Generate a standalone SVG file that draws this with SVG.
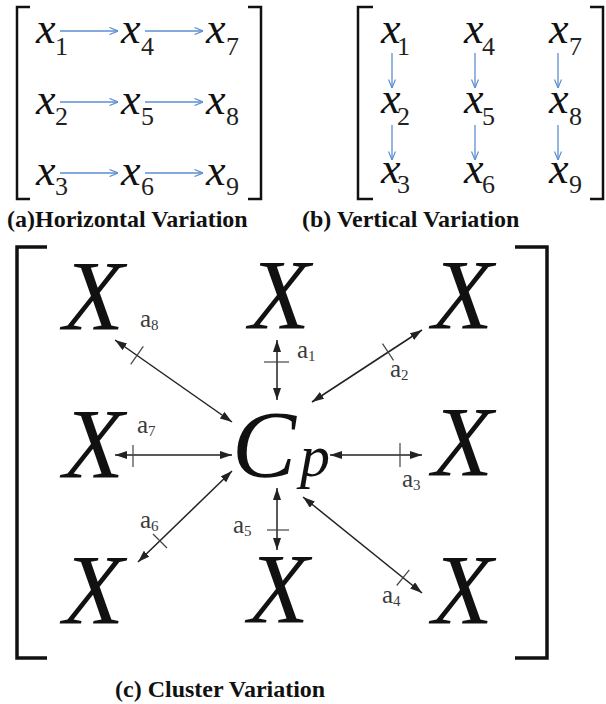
<svg xmlns="http://www.w3.org/2000/svg" width="606" height="704" viewBox="0 0 606 704" font-family="Times New Roman">
<defs>
<marker id="ba" viewBox="0 0 9 8" refX="9" refY="4" markerWidth="9" markerHeight="8" orient="auto" markerUnits="userSpaceOnUse">
<path d="M0.5,0.5 L9,4 L0.5,7.5" fill="none" stroke="#5b8fd0" stroke-width="1.2"/>
</marker>
<marker id="ah" viewBox="0 0 12 8" refX="12" refY="4" markerWidth="12" markerHeight="8" orient="auto-start-reverse" markerUnits="userSpaceOnUse">
<path d="M0,0 L12,4 L0,8 z" fill="#222"/>
</marker>
</defs>
<rect width="606" height="704" fill="#fff"/>
<g id="panel-a-brackets" fill="none" stroke="#111" stroke-width="2.5">
<path d="M30,7 H17 V199 H30"/>
<path d="M248,7 H261 V199 H248"/>
</g>
<g id="a-x1"><text font-family="Times New Roman" font-style="italic" font-size="44" fill="#111" x="36" y="43">x</text><text font-family="Times New Roman" font-size="26" fill="#222" x="55" y="55">1</text></g>
<g id="a-x4"><text font-family="Times New Roman" font-style="italic" font-size="44" fill="#111" x="121" y="43">x</text><text font-family="Times New Roman" font-size="26" fill="#222" x="141" y="55">4</text></g>
<g id="a-x7"><text font-family="Times New Roman" font-style="italic" font-size="44" fill="#111" x="206" y="43">x</text><text font-family="Times New Roman" font-size="26" fill="#222" x="226" y="55">7</text></g>
<g id="a-x2"><text font-family="Times New Roman" font-style="italic" font-size="44" fill="#111" x="36" y="114">x</text><text font-family="Times New Roman" font-size="26" fill="#222" x="55" y="125">2</text></g>
<g id="a-x5"><text font-family="Times New Roman" font-style="italic" font-size="44" fill="#111" x="121" y="114">x</text><text font-family="Times New Roman" font-size="26" fill="#222" x="141" y="125">5</text></g>
<g id="a-x8"><text font-family="Times New Roman" font-style="italic" font-size="44" fill="#111" x="206" y="114">x</text><text font-family="Times New Roman" font-size="26" fill="#222" x="226" y="125">8</text></g>
<g id="a-x3"><text font-family="Times New Roman" font-style="italic" font-size="44" fill="#111" x="36" y="185">x</text><text font-family="Times New Roman" font-size="26" fill="#222" x="55" y="195">3</text></g>
<g id="a-x6"><text font-family="Times New Roman" font-style="italic" font-size="44" fill="#111" x="121" y="185">x</text><text font-family="Times New Roman" font-size="26" fill="#222" x="141" y="195">6</text></g>
<g id="a-x9"><text font-family="Times New Roman" font-style="italic" font-size="44" fill="#111" x="206" y="185">x</text><text font-family="Times New Roman" font-size="26" fill="#222" x="226" y="195">9</text></g>
<g id="a-connectors" stroke="#5b8fd0" stroke-width="1.3" fill="none" marker-end="url(#ba)">
<line x1="60" y1="31" x2="118" y2="31"/>
<line x1="145" y1="31" x2="203" y2="31"/>
<line x1="60" y1="102" x2="118" y2="102"/>
<line x1="145" y1="102" x2="203" y2="102"/>
<line x1="60" y1="173" x2="118" y2="173"/>
<line x1="145" y1="173" x2="203" y2="173"/>
</g>
<text font-family="Times New Roman" font-weight="bold" font-size="24" fill="#111" x="7" y="227">(a)Horizontal Variation</text>
<g id="panel-b-brackets" fill="none" stroke="#111" stroke-width="2.5">
<path d="M373,7 H358 V199 H373"/>
<path d="M590,7 H603 V199 H590"/>
</g>
<g id="b-x1"><text font-family="Times New Roman" font-style="italic" font-size="44" fill="#111" x="381" y="43">x</text><text font-family="Times New Roman" font-size="26" fill="#222" x="397" y="55">1</text></g>
<g id="b-x4"><text font-family="Times New Roman" font-style="italic" font-size="44" fill="#111" x="464" y="43">x</text><text font-family="Times New Roman" font-size="26" fill="#222" x="482" y="55">4</text></g>
<g id="b-x7"><text font-family="Times New Roman" font-style="italic" font-size="44" fill="#111" x="549" y="43">x</text><text font-family="Times New Roman" font-size="26" fill="#222" x="569" y="55">7</text></g>
<g id="b-x2"><text font-family="Times New Roman" font-style="italic" font-size="44" fill="#111" x="381" y="113">x</text><text font-family="Times New Roman" font-size="26" fill="#222" x="397" y="125">2</text></g>
<g id="b-x5"><text font-family="Times New Roman" font-style="italic" font-size="44" fill="#111" x="464" y="113">x</text><text font-family="Times New Roman" font-size="26" fill="#222" x="482" y="125">5</text></g>
<g id="b-x8"><text font-family="Times New Roman" font-style="italic" font-size="44" fill="#111" x="549" y="113">x</text><text font-family="Times New Roman" font-size="26" fill="#222" x="569" y="125">8</text></g>
<g id="b-x3"><text font-family="Times New Roman" font-style="italic" font-size="44" fill="#111" x="381" y="183">x</text><text font-family="Times New Roman" font-size="26" fill="#222" x="397" y="193">3</text></g>
<g id="b-x6"><text font-family="Times New Roman" font-style="italic" font-size="44" fill="#111" x="464" y="183">x</text><text font-family="Times New Roman" font-size="26" fill="#222" x="482" y="193">6</text></g>
<g id="b-x9"><text font-family="Times New Roman" font-style="italic" font-size="44" fill="#111" x="549" y="183">x</text><text font-family="Times New Roman" font-size="26" fill="#222" x="569" y="193">9</text></g>
<g id="b-connectors" stroke="#5b8fd0" stroke-width="1.3" fill="none" marker-end="url(#ba)">
<line x1="392" y1="53" x2="392" y2="88"/>
<line x1="392" y1="125" x2="392" y2="160"/>
<line x1="475" y1="53" x2="475" y2="88"/>
<line x1="475" y1="125" x2="475" y2="160"/>
<line x1="558" y1="53" x2="558" y2="88"/>
<line x1="558" y1="125" x2="558" y2="160"/>
</g>
<text font-family="Times New Roman" font-weight="bold" font-size="24" fill="#111" x="302" y="227">(b) Vertical Variation</text>
<g id="panel-c-brackets" fill="none" stroke="#111" stroke-width="3.5">
<path d="M47,247 H17 V658 H47"/>
<path d="M515,247 H547 V658 H515"/>
</g>
<g id="c-X-tl"><text font-family="Times New Roman" font-style="italic" font-size="100" fill="#111" x="63" y="329">X</text></g>
<g id="c-X-tm"><text font-family="Times New Roman" font-style="italic" font-size="100" fill="#111" x="249" y="328">X</text></g>
<g id="c-X-tr"><text font-family="Times New Roman" font-style="italic" font-size="100" fill="#111" x="432" y="328">X</text></g>
<g id="c-X-ml"><text font-family="Times New Roman" font-style="italic" font-size="100" fill="#111" x="63" y="477">X</text></g>
<g id="c-Cp"><text font-family="Times New Roman" font-style="italic" font-size="96" fill="#111" x="232" y="477">C</text><text font-family="Times New Roman" font-style="italic" font-size="60" fill="#111" x="300" y="476">p</text></g>
<g id="c-X-mr"><text font-family="Times New Roman" font-style="italic" font-size="100" fill="#111" x="432" y="475">X</text></g>
<g id="c-X-bl"><text font-family="Times New Roman" font-style="italic" font-size="100" fill="#111" x="63" y="623">X</text></g>
<g id="c-X-bm"><text font-family="Times New Roman" font-style="italic" font-size="100" fill="#111" x="248" y="622">X</text></g>
<g id="c-X-br"><text font-family="Times New Roman" font-style="italic" font-size="100" fill="#111" x="432" y="623">X</text></g>
<g id="c-connectors">
<g stroke="#222" stroke-width="1.5" fill="none" marker-start="url(#ah)" marker-end="url(#ah)">
<line x1="277" y1="340" x2="277" y2="400"/>
<line x1="312" y1="402" x2="422" y2="330"/>
<line x1="330" y1="455" x2="422" y2="455"/>
<line x1="303" y1="497" x2="422" y2="593"/>
<line x1="277" y1="488" x2="277" y2="550"/>
<line x1="232" y1="471" x2="138" y2="562"/>
<line x1="232" y1="455" x2="115" y2="455"/>
<line x1="232" y1="422" x2="115" y2="340"/>
</g>
<g stroke="#444" stroke-width="1.2">
<line x1="264" y1="362" x2="289" y2="362"/>
<line x1="382.5" y1="343.6" x2="393.5" y2="360.4"/>
<line x1="400" y1="443" x2="400" y2="467"/>
<line x1="409.3" y1="569.9" x2="396.7" y2="585.5"/>
<line x1="267" y1="530" x2="289" y2="530"/>
<line x1="153" y1="534" x2="167" y2="548"/>
<line x1="133" y1="445" x2="133" y2="467"/>
<line x1="130.7" y1="364.4" x2="143.3" y2="346.4"/>
</g>
</g>
<g id="c-labels" fill="#3a3a3a">
<text font-family="Times New Roman" font-size="25" x="297" y="358">a<tspan font-size="15" dy="3">1</tspan></text>
<text font-family="Times New Roman" font-size="25" x="390" y="377">a<tspan font-size="15" dy="3">2</tspan></text>
<text font-family="Times New Roman" font-size="25" x="402" y="487">a<tspan font-size="15" dy="3">3</tspan></text>
<text font-family="Times New Roman" font-size="25" x="382" y="603">a<tspan font-size="15" dy="3">4</tspan></text>
<text font-family="Times New Roman" font-size="25" x="233" y="533">a<tspan font-size="15" dy="3">5</tspan></text>
<text font-family="Times New Roman" font-size="25" x="140" y="528">a<tspan font-size="15" dy="3">6</tspan></text>
<text font-family="Times New Roman" font-size="25" x="137" y="433">a<tspan font-size="15" dy="3">7</tspan></text>
<text font-family="Times New Roman" font-size="25" x="140" y="327">a<tspan font-size="15" dy="3">8</tspan></text>
</g>
<text font-family="Times New Roman" font-weight="bold" font-size="24" fill="#111" x="115" y="697">(c) Cluster Variation</text>
</svg>
